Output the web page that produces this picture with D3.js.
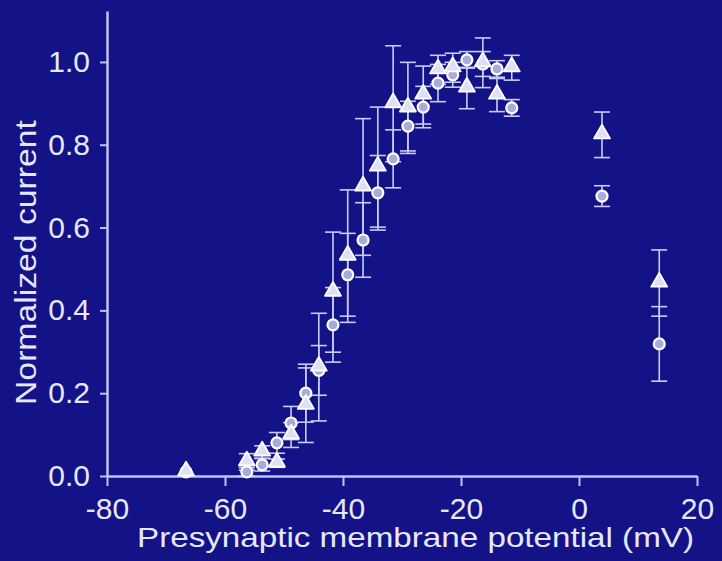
<!DOCTYPE html>
<html>
<head>
<meta charset="utf-8">
<script src="https://cdn.jsdelivr.net/npm/d3@7"></script>
<style>
  body { margin: 0; background: #141287; }
  svg { display: block; }
</style>
</head>
<body>
<div id="chart"></div>
<script>
(function() {
  var width = 722,
    height = 561;

  // membrane potential (mV) for each step
  var potentials = [-66.6, -56.3, -53.7, -51.2, -48.8, -46.3, -44.1, -41.7, -39.2, -36.6, -34.1,
    -31.5, -29.0, -26.4, -23.9, -21.4, -19.0, -16.3, -13.9, -11.4, 3.9, 13.6];

  // triangles
  var triValues = [0.01, 0.034, 0.058, 0.031, 0.099, 0.171, 0.263, 0.444, 0.531, 0.698, 0.746,
    0.899, 0.889, 0.92, 0.981, 0.986, 0.937, 0.998, 0.92, 0.986, 0.824, 0.466];
  var triErrors = [0, 0.02, 0.015, 0.01, 0.03, 0.09, 0.13, 0.145, 0.16, 0.165, 0.145,
    0.14, 0.11, 0.07, 0.035, 0.035, 0.05, 0.06, 0.04, 0.03, 0.055, 0.08];

  // circles
  var circValues = [0.01, 0.01, 0.027, 0.08, 0.128, 0.2, 0.255, 0.365, 0.486, 0.57, 0.684,
    0.766, 0.845, 0.891, 0.949, 0.969, 1.005, 0.995, 0.983, 0.889, 0.676, 0.319];
  var circErrors = [0, 0.01, 0.015, 0.025, 0.04, 0.07, 0.06, 0.09, 0.1, 0.09, 0.09,
    0.07, 0.06, 0.05, 0.045, 0.03, 0.02, 0.03, 0.02, 0.02, 0.025, 0.09];

  var xTicks = [-80, -60, -40, -20, 0, 20];
  var yTicks = [0, 0.2, 0.4, 0.6, 0.8, 1.0];

  var axisColor = "#bfc3f5",
    textColor = "#e6e8ff",
    barColor = "#c8ccf8",
    font = "'Liberation Sans', Arial, Helvetica, sans-serif";

  var svg = d3.select("#chart")
    .append("svg")
    .attr("width", width)
    .attr("height", height);

  svg.append("rect")
    .attr("width", width)
    .attr("height", height)
    .attr("fill", "#141287");

  var xScale = d3.scaleLinear().domain([-80, 20]).range([107, 697]);
  var yScale = d3.scaleLinear().domain([0, 1.123]).range([476, 11]);

  var xAxis = svg.append("g")
    .attr("transform", "translate(0," + yScale(0) + ")")
    .call(d3.axisBottom(xScale)
      .tickValues(xTicks)
      .tickSize(10)
      .tickSizeOuter(0)
      .tickPadding(12)
      .tickFormat(function(d) { return String(d); }));

  var yAxis = svg.append("g")
    .attr("transform", "translate(" + xScale(-80) + ",0)")
    .call(d3.axisLeft(yScale)
      .tickValues(yTicks)
      .tickSize(7)
      .tickSizeOuter(0)
      .tickPadding(10)
      .tickFormat(d3.format(".1f")));

  [xAxis, yAxis].forEach(function(g) {
    g.select(".domain").attr("stroke", axisColor).attr("stroke-width", 2.5);
    g.selectAll(".tick line").attr("stroke", axisColor).attr("stroke-width", 2);
    g.selectAll(".tick text")
      .attr("fill", textColor)
      .style("font-family", font)
      .style("font-size", "30px");
  });

  svg.append("text")
    .attr("x", 137)
    .attr("y", 547)
    .attr("textLength", 557)
    .attr("lengthAdjust", "spacingAndGlyphs")
    .attr("fill", textColor)
    .style("font-family", font)
    .style("font-size", "28px")
    .text("Presynaptic membrane potential (mV)");

  svg.append("text")
    .attr("transform", "translate(36,405) rotate(-90)")
    .attr("textLength", 285)
    .attr("lengthAdjust", "spacingAndGlyphs")
    .attr("fill", textColor)
    .style("font-family", font)
    .style("font-size", "29px")
    .text("Normalized current");

  var triData = potentials.map(function(p, i) {
    return { mv: p, value: triValues[i], err: triErrors[i] };
  });
  var circData = potentials.map(function(p, i) {
    return { mv: p, value: circValues[i], err: circErrors[i] };
  });

  function drawBars(data, cls) {
    var g = svg.selectAll("." + cls)
      .data(data.filter(function(d) { return d.err > 0; }))
      .enter().append("g")
      .attr("class", cls)
      .attr("stroke", barColor)
      .attr("stroke-width", 1.6);

    g.append("line")
      .attr("x1", function(d) { return xScale(d.mv); })
      .attr("x2", function(d) { return xScale(d.mv); })
      .attr("y1", function(d) { return yScale(d.value + d.err); })
      .attr("y2", function(d) { return yScale(d.value - d.err); });

    [1, -1].forEach(function(s) {
      g.append("line")
        .attr("x1", function(d) { return xScale(d.mv) - 8; })
        .attr("x2", function(d) { return xScale(d.mv) + 8; })
        .attr("y1", function(d) { return yScale(d.value + s * d.err); })
        .attr("y2", function(d) { return yScale(d.value + s * d.err); });
    });
  }

  drawBars(circData, "circbar");
  drawBars(triData, "tribar");

  svg.selectAll(".circ")
    .data(circData)
    .enter().append("circle")
    .attr("class", "circ")
    .attr("cx", function(d) { return xScale(d.mv); })
    .attr("cy", function(d) { return yScale(d.value); })
    .attr("r", 5.5)
    .attr("fill", "#a9abdc")
    .attr("stroke", "#ffffff")
    .attr("stroke-width", 2.2);

  var tri = d3.symbol().type(d3.symbolTriangle).size(110);

  svg.selectAll(".tri")
    .data(triData)
    .enter().append("path")
    .attr("class", "tri")
    .attr("d", tri)
    .attr("transform", function(d) {
      return "translate(" + xScale(d.mv) + "," + (yScale(d.value) - 1) + ")";
    })
    .attr("fill", "#dfe0f6")
    .attr("stroke", "#ffffff")
    .attr("stroke-width", 1.8)
    .attr("stroke-linejoin", "round");

})();
</script>
</body>
</html>
